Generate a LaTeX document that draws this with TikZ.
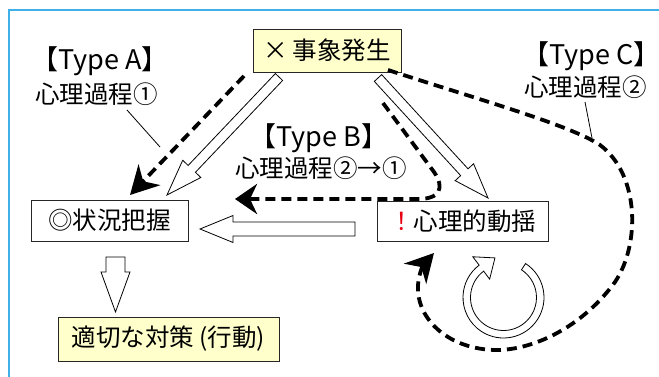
\documentclass[tikz,border=0pt]{standalone}
\usepackage{fontspec}
\setmainfont{Noto Sans CJK JP}
\usetikzlibrary{calc,arrows.meta}
\definecolor{frameblue}{RGB}{64,176,232}
\definecolor{boxyellow}{RGB}{255,255,204}
\definecolor{exred}{RGB}{230,0,18}
\newcommand\hollowarrow[5]{%
  \coordinate (ha) at ($(#2)!#5!(#1)$);
  \draw[hollow] ($(#1)!#3!90:(#2)$) -- ($(ha)!#3!90:(#2)$) -- ($(ha)!#4!90:(#2)$) -- (#2)
    -- ($(ha)!#4!-90:(#2)$) -- ($(ha)!#3!-90:(#2)$) -- ($(#1)!#3!-90:(#2)$) -- cycle;}
\begin{document}
\begin{tikzpicture}[x=1pt,y=-1pt,
  font=\fontsize{24.5}{28}\selectfont,
  box/.style={draw=black!85, line width=0.8pt, inner sep=0pt},
  lbl/.style={inner sep=0pt},
  typelbl/.style={inner sep=0pt, font=\fontsize{27}{30}\selectfont},
  hollow/.style={draw=black, line width=0.8pt, fill=white, line join=miter},
  dashline/.style={line width=3.8pt, dash pattern=on 10pt off 6pt},
  bigtip/.style={-{Stealth[length=28pt,width=30pt,inset=9pt]}},
  midtip/.style={-{Stealth[length=22pt,width=30pt,inset=7pt]}},
  leader/.style={line width=0.8pt}]
\useasboundingbox (0,0) rectangle (659,377);
% frame
\coordinate (f1) at (9,377); \coordinate (f2) at (9,10); \coordinate (f3) at (659,10);
\draw[frameblue, line width=1.5pt] (f1) -- (f2) -- (f3);
% boxes
\node[box, fill=boxyellow, minimum width=148pt, minimum height=43pt] (ev) at (327,50.5) {× 事象発生};
\node[box, minimum width=157pt, minimum height=41pt] (sit) at (109.5,220.5) {◎状況把握};
\node[box, minimum width=171pt, minimum height=40pt] (shk) at (462.5,221) {{\color{exred}！}心理的動揺};
\node[box, fill=boxyellow, minimum width=221pt, minimum height=44pt] (act) at (168.5,339) {適切な対策 (行動)};
% labels
\node[typelbl, anchor=west] (ta) at (31,61) {【Type A】};
\node[lbl, anchor=west] (tap) at (35,94) {心理過程①};
\node[typelbl] (tb) at (319,138) {【Type B】};
\node[lbl] (tbp) at (321,168) {心理過程②→①};
\node[typelbl, anchor=west] (tc) at (522,56) {【Type C】};
\node[lbl, anchor=west] (tcp) at (524,87) {心理過程②};
% hollow arrows
\coordinate (a1s) at (279,77);  \coordinate (a1t) at (167,195);
\coordinate (a2s) at (378,78);  \coordinate (a2t) at (488,198);
\coordinate (a3s) at (355,229); \coordinate (a3t) at (200,229);
\coordinate (a4s) at (115.5,257); \coordinate (a4t) at (115.5,312);
\hollowarrow{a1s}{a1t}{5pt}{12.5pt}{36pt}
\hollowarrow{a2s}{a2t}{5pt}{12.5pt}{35pt}
\hollowarrow{a3s}{a3t}{7pt}{13.5pt}{33pt}
\hollowarrow{a4s}{a4t}{9.5pt}{14.5pt}{40pt}
% circular arrow
\coordinate (cc) at (503.5,297.5);
\draw[hollow] ($(cc)+(-57:40.5)$) arc[start angle=-57, end angle=233, radius=40.5]
  -- ($(cc)+(233:51)$) -- ($(cc)+(233:36.75)+(-37:17)$) -- ($(cc)+(233:23)$)
  -- ($(cc)+(233:33)$) arc[start angle=233, end angle=-57, radius=33] -- cycle;
% dashed paths
\coordinate (da1) at (244,76); \coordinate (da2) at (130,195);
\draw[dashline, bigtip] (da1) -- (da2);
\coordinate (db1) at (383,103); \coordinate (db2) at (235,199);
\draw[dashline, midtip] (db1) -- (434,172) .. controls (445,188) and (440,199) .. (418,199) -- (db2);
\coordinate (dc1) at (388,70); \coordinate (dc2) at (434,253);
\draw[dashline, bigtip] (dc1) .. controls (480,100) and (570,125) .. (600,145)
  .. controls (640,175) and (640,245) .. (615,282)
  .. controls (580,330) and (530,350) .. (497,350)
  .. controls (450,350) and (416,320) .. (418,285)
  .. controls (419,272) and (424,264) .. (dc2);
% leader lines
\coordinate (la1) at (127,110); \coordinate (la2) at (160,147);
\coordinate (lc1) at (585,102); \coordinate (lc2) at (592,138);
\draw[leader] (la1) -- (la2);
\draw[leader] (lc1) -- (lc2);
\end{tikzpicture}
\end{document}
